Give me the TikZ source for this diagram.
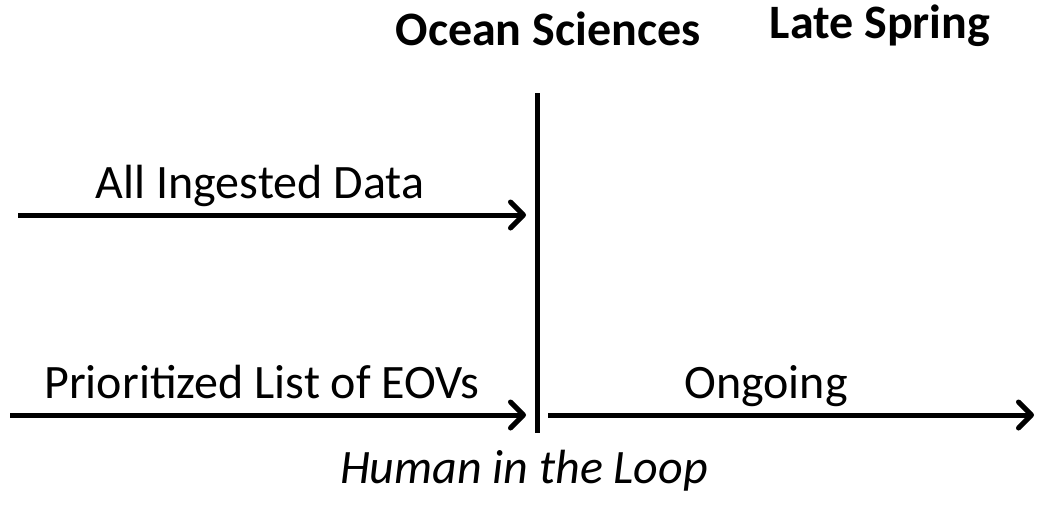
\documentclass[tikz,border=0pt]{standalone}
\usepackage{fontspec}
\setmainfont{Carlito}
\usetikzlibrary{arrows.meta}

\tikzset{
  flow/.style={line width=5pt, -{Straight Barb[round, length=13pt, width=26pt, line width=5pt]}},
  lbl/.style={font=\fontsize{48}{52}\selectfont, anchor=base},
  head/.style={font=\fontsize{48}{52}\selectfont\bfseries, anchor=base},
}

\begin{document}
\begin{tikzpicture}[x=1pt, y=-1pt]
  \useasboundingbox (0,0) rectangle (1047,515);

  % Headings
  \node[head] (ocean) at (548,45) {Ocean Sciences};
  \node[head] (spring) at (880,38) {Late Spring};

  % Divider
  \coordinate (top) at (537,93);
  \coordinate (bot) at (537,433);
  \draw[line width=5pt] (top) -- (bot);

  % Incoming legs
  \coordinate (inA) at (18,215);
  \coordinate (endA) at (526,215);
  \coordinate (inB) at (10,415);
  \coordinate (endB) at (526,415);
  \draw[flow] (inA) -- (endA);
  \draw[flow] (inB) -- (endB);
  \node[lbl] (ingested) at (260,198) {All Ingested Data};
  \node[lbl] (eovs) at (262,398) {Prioritized List of EOVs};

  % Outgoing leg
  \coordinate (outC) at (548,415);
  \coordinate (endC) at (1034,415);
  \draw[flow] (outC) -- (endC);
  \node[lbl] (ongoing) at (766,398) {Ongoing};

  \node[lbl, font=\fontsize{48}{52}\selectfont\itshape] (human) at (524,483) {Human in the Loop};
\end{tikzpicture}
\end{document}
